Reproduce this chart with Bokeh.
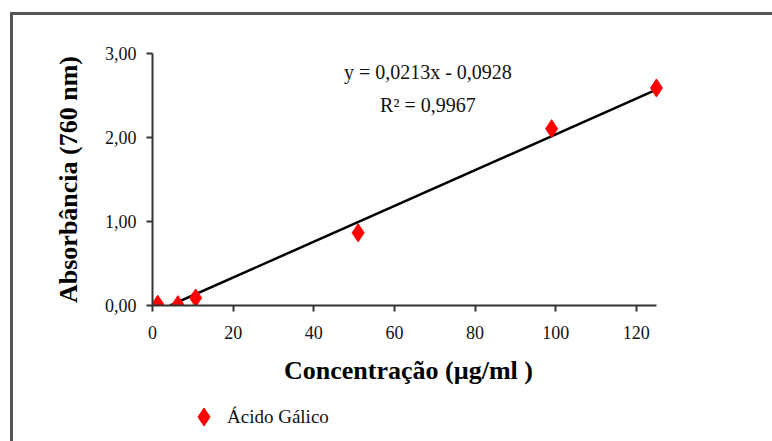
from bokeh.plotting import figure
from bokeh.layouts import column
from bokeh.models import (Range1d, FixedTicker, Legend, LegendItem, Label)
from bokeh.embed import file_html
from bokeh.resources import INLINE

# ---- data ----
conc = [1.3, 6.3, 10.7, 51.0, 99.0, 125.0]
absorb = [0.015, 0.01, 0.09, 0.865, 2.105, 2.59]
slope = 0.0213
intercept = -0.0928
eq_text = "y = 0,0213x - 0,0928"
r2_text = "R² = 0,9967"
x_ticks = [0, 20, 40, 60, 80, 100, 120]
y_ticks = [0, 1, 2, 3]
y_tick_labels = ["0,00", "1,00", "2,00", "3,00"]
series_name = "Ácido Gálico"
x_title = "Concentração (µg/ml )"
y_title = "Absorbância (760 nm)"

FONT = "Liberation Serif"
MARKER = dict(marker="diamond", fill_color="#ff0000", line_color="#ff0000",
              line_width=1)

fig = figure(width=759, height=380, output_backend="svg", toolbar_location=None,
             x_range=Range1d(0, 127), y_range=Range1d(0, 3),
             min_border_left=139, min_border_right=108,
             min_border_top=38, min_border_bottom=90)
fig.xgrid.visible = False
fig.ygrid.visible = False
fig.outline_line_color = None
fig.background_fill_color = "white"
fig.border_fill_color = "white"

# axes
for ax in (fig.xaxis[0], fig.yaxis[0]):
    ax.axis_line_color = "#333333"
    ax.axis_line_width = 2
    ax.major_tick_line_color = "#333333"
    ax.major_tick_line_width = 2
    ax.major_tick_in = 0
    ax.major_tick_out = 6
    ax.minor_tick_line_color = None
    ax.major_label_text_font = FONT
    ax.major_label_text_font_size = "18px"
    ax.major_label_text_color = "#111111"
    ax.axis_label_text_font = FONT
    ax.axis_label_text_font_style = "bold"
    ax.axis_label_text_font_size = "26px"
    ax.axis_label_text_color = "black"

fig.xaxis[0].ticker = FixedTicker(ticks=x_ticks)
fig.xaxis[0].bounds = (0, max(conc))
fig.yaxis[0].ticker = FixedTicker(ticks=y_ticks)
fig.yaxis[0].major_label_overrides = {t: l for t, l in zip(y_ticks, y_tick_labels)}
fig.xaxis[0].major_label_standoff = 14
fig.yaxis[0].major_label_standoff = 10
fig.xaxis[0].axis_label = x_title
fig.yaxis[0].axis_label = y_title
fig.xaxis[0].axis_label_standoff = 14
fig.yaxis[0].axis_label_standoff = 19

# trend line (clipped at y = 0 like the spreadsheet chart)
x0 = max(min(conc), -intercept / slope)
x1 = max(conc)
fig.line([x0, x1], [slope * x0 + intercept, slope * x1 + intercept],
         line_color="black", line_width=2.5)

# points
fig.scatter(conc, absorb, size=18, **MARKER)

# equation text
fig.add_layout(Label(x=68.3, y=2.775, text=eq_text, text_font=FONT,
                     text_font_size="20px", text_align="center",
                     text_baseline="middle", text_color="#111111"))
fig.add_layout(Label(x=68.3, y=2.39, text=r2_text, text_font=FONT,
                     text_font_size="20px", text_align="center",
                     text_baseline="middle", text_color="#111111"))

# legend strip below the chart (its series lies outside this strip's view)
leg = figure(width=759, height=46, output_backend="svg", toolbar_location=None,
             x_range=Range1d(0, 125), y_range=Range1d(-3, -2),
             x_axis_location=None, y_axis_location=None,
             min_border=0, min_border_left=0, min_border_right=0,
             min_border_top=0, min_border_bottom=0)
leg.xgrid.visible = False
leg.ygrid.visible = False
leg.outline_line_color = None
leg.border_fill_color = "white"
leg.background_fill_color = "white"
leg_r = leg.scatter(conc, absorb, size=18, **MARKER)
legend = Legend(items=[LegendItem(label=series_name, renderers=[leg_r])],
                location=(29, 2), padding=0, margin=0,
                glyph_width=45, glyph_height=45, label_standoff=1,
                label_text_font=FONT, label_text_font_size="19px",
                label_text_color="#111111",
                border_line_color=None, background_fill_alpha=0)
leg.add_layout(legend, "center")

# outer chart-area border (left and top edges visible in the window)
p = column(fig, leg, spacing=0,
           styles={"border-left": "3px solid #555555",
                   "border-top": "3px solid #555555",
                   "margin-left": "10px", "margin-top": "12px",
                   "box-sizing": "content-box"})

open("out.html", "w").write(file_html(p, INLINE))
